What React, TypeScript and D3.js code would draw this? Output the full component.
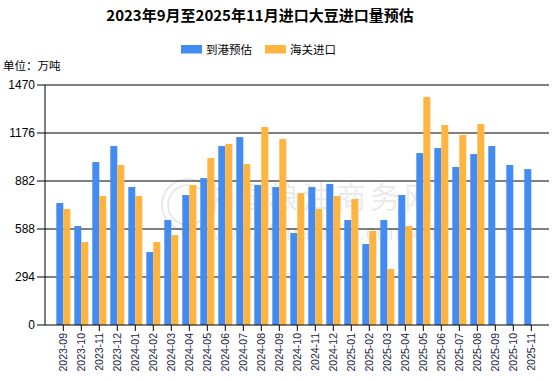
import React from "react";
import * as d3 from "d3";

const categories = [
  "2023-09","2023-10","2023-11","2023-12","2024-01","2024-02","2024-03","2024-04","2024-05",
  "2024-06","2024-07","2024-08","2024-09","2024-10","2024-11","2024-12","2025-01","2025-02",
  "2025-03","2025-04","2025-05","2025-06","2025-07","2025-08","2025-09","2025-10","2025-11",
];
const arrivalEstimate = [
  747, 606, 998, 1096, 845, 447, 643, 796, 900,
  1096, 1151, 857, 845, 563, 845, 864, 643, 496,
  643, 796, 1053, 1084, 968, 1047, 1096, 980, 955,
];
const customsImport: (number | null)[] = [
  710, 508, 790, 980, 790, 508, 551, 857, 1023,
  1109, 986, 1213, 1139, 808, 710, 790, 772, 576,
  343, 606, 1396, 1225, 1164, 1231, null, null, null,
];
const yTicks = [0, 294, 588, 882, 1176, 1470];
const seriesNames = ["到港预估", "海关进口"];
const colors = ["#418BF3", "#FFB440"];

const W = 555;
const H = 381;
const left = 45;
const right = 549;
const top = 85;
const bottom = 325;

export default function App() {
  const x = d3.scalePoint<string>().domain(categories).range([63.3, 531.3]);
  const y = d3.scaleLinear().domain([0, 1470]).range([bottom, top]);
  const bw = 7;
  const font = "Arial, 'Liberation Sans', sans-serif";
  const cjk = "'Noto Sans CJK SC', sans-serif";

  return (
    <svg width={W} height={H} style={{ position: "absolute", left: 0, top: 0, background: "#fff" }}>
      <rect x={0} y={0} width={W} height={H} fill="#fff" />
      <text x={260} y={21} textAnchor="middle" fontFamily={cjk} fontWeight="bold" fontSize={15} fill="#000">
        2023年9月至2025年11月进口大豆进口量预估
      </text>
      {/* legend */}
      {seriesNames.map((n, i) => {
        const lx = i === 0 ? 181 : 265;
        return (
          <g key={n}>
            <rect x={lx} y={45} width={21} height={8.5} fill={colors[i]} />
            <text x={lx + 25} y={54} fontFamily={cjk} fontSize={11.5} fill="#000">{n}</text>
          </g>
        );
      })}
      <text x={3} y={70} fontFamily={cjk} fontSize={11.5} fill="#000">单位：万吨</text>

      {/* watermark */}
      <g opacity={0.1} fill="none" stroke="#000">
        <circle cx={188} cy={205} r={26} strokeWidth={1.5} />
        <circle cx={188} cy={205} r={20} strokeWidth={1.5} />
      </g>
      <text x={200} y={208} fontFamily={cjk} fontSize={30} fill="#000" opacity={0.08} letterSpacing={4}>
        中国粮油商务网
      </text>
      <text x={205} y={240} fontFamily={font} fontSize={22} fill="#000" opacity={0.08}>
        www.chinagrain.com.cn
      </text>

      {/* gridlines */}
      {yTicks.filter((t) => t > 0).map((t) => (
        <line key={t} x1={left} x2={right} y1={y(t)} y2={y(t)} stroke="#000" strokeWidth={1} />
      ))}

      {/* bars */}
      {categories.map((c, i) => {
        const cx = x(c)!;
        const a = arrivalEstimate[i];
        const b = customsImport[i];
        return (
          <g key={c}>
            <rect x={cx - bw} y={y(a)} width={bw} height={bottom - y(a)} fill={colors[0]} />
            {b != null && (
              <rect x={cx} y={y(b)} width={bw} height={bottom - y(b)} fill={colors[1]} />
            )}
          </g>
        );
      })}

      {/* y axis */}
      <line x1={left} x2={left} y1={top} y2={bottom} stroke="#000" />
      {yTicks.map((t) => (
        <g key={t}>
          <line x1={37} x2={left} y1={y(t)} y2={y(t)} stroke="#000" />
          <text x={35} y={y(t)} dy="0.35em" textAnchor="end" fontFamily={font} fontSize={12} fill="#000">
            {t}
          </text>
        </g>
      ))}

      {/* x axis */}
      <line x1={left} x2={right} y1={bottom} y2={bottom} stroke="#000" />
      {categories.map((c) => {
        const cx = x(c)!;
        return (
          <g key={c}>
            <line x1={cx} x2={cx} y1={bottom} y2={bottom + 6} stroke="#000" />
            <text
              transform={`translate(${cx},${bottom + 8}) rotate(-90)`}
              dy="0.35em"
              textAnchor="end"
              fontFamily={font}
              fontSize={10.5}
              fill="#1a1a40"
            >
              {c}
            </text>
          </g>
        );
      })}
    </svg>
  );
}
